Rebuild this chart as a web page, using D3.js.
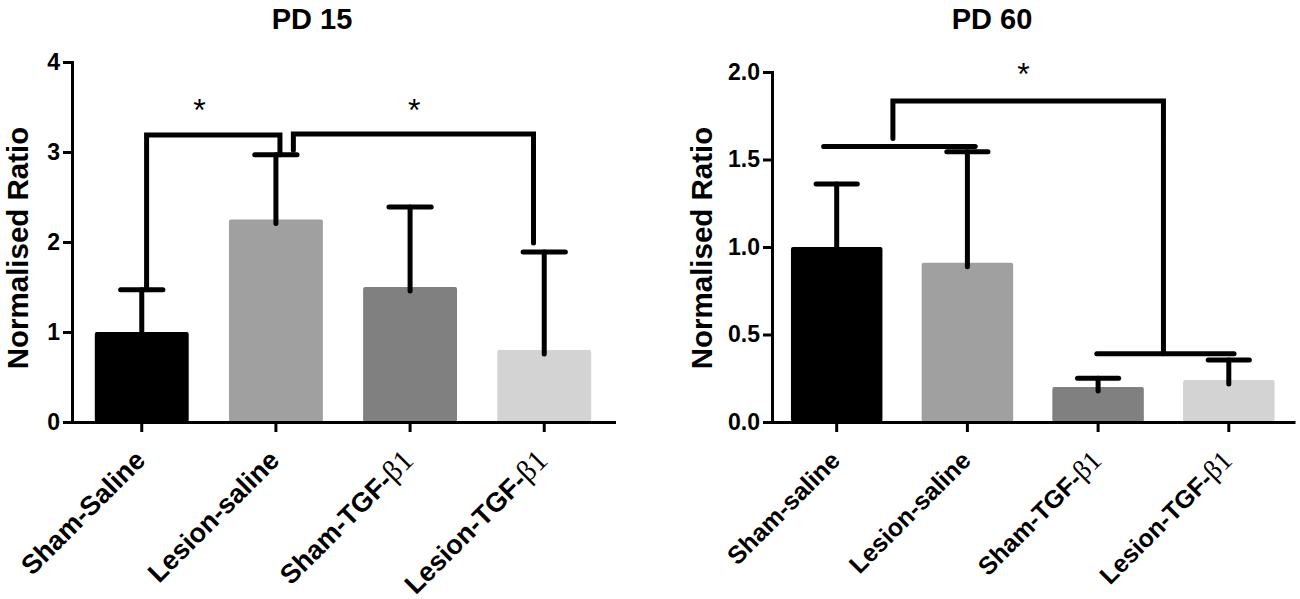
<!DOCTYPE html>
<html>
<head>
<meta charset="utf-8">
<script src="https://cdn.jsdelivr.net/npm/d3@7"></script>
<style>
  html, body { margin: 0; padding: 0; background: #fff; }
  svg { display: block; font-family: "Liberation Sans", Arial, sans-serif; }
</style>
</head>
<body>
<svg id="chart"></svg>
<script>
// ---- data ----
const cats15 = ['Sham-Saline', 'Lesion-saline', 'Sham-TGF-β1', 'Lesion-TGF-β1'];
const cats60 = ['Sham-saline', 'Lesion-saline', 'Sham-TGF-β1', 'Lesion-TGF-β1'];

const mean15 = [1.0, 2.25, 1.5, 0.8];
const sem15 = [0.47, 0.72, 0.89, 1.09];
const mean60 = [1.0, 0.91, 0.2, 0.24];
const sem60 = [0.36, 0.635, 0.05, 0.115];

const ticks15 = [0, 1, 2, 3, 4];
const ticks60 = [0, 0.5, 1.0, 1.5, 2.0];

const barColors = ['#000000', '#a0a0a0', '#808080', '#d3d3d3'];

// significance lines: [bar index (fractional), value]
const brackets15 = [
    [[0.036, 1.47], [0.036, 3.19], [1.03, 3.19], [1.03, 2.97]],
    [[1.13, 3.02], [1.13, 3.2], [2.92, 3.2], [2.92, 1.99]],
];
const stars15 = [[0.43, 3.55], [2.03, 3.55]];

const brackets60 = [
    [[-0.10, 1.575], [1.06, 1.575]],
    [[0.43, 1.62], [0.43, 1.835], [2.50, 1.835], [2.50, 0.39]],
    [[1.99, 0.39], [3.04, 0.39]],
];
const stars60 = [[1.43, 2.03]];

// ---- drawing ----
const svg = d3.select('#chart').attr('width', 1300).attr('height', 599);

function drawPanel(o) {
    const g = svg.append('g');

    const x = d3.scaleBand().domain(o.cats).range([o.x0, o.x1])
        .paddingInner(0.3).paddingOuter(o.outer);
    const y = d3.scaleLinear().domain([0, o.ticks[o.ticks.length - 1]]).range([o.y0, o.y1]);
    const bw = x.bandwidth();
    const cx = c => x(c) + bw / 2;
    // fractional bar index -> pixel
    const pos = d3.scaleLinear().domain([0, 1]).range([cx(o.cats[0]), cx(o.cats[1])]);

    // bars
    g.selectAll('rect.bar')
        .data(o.cats)
        .join('rect')
        .attr('class', 'bar')
        .attr('x', c => x(c))
        .attr('y', (c, i) => y(o.means[i]))
        .attr('width', bw)
        .attr('height', (c, i) => y(0) - y(o.means[i]))
        .attr('rx', 2)
        .attr('fill', (c, i) => barColors[i]);

    // error bars (upper only)
    const err = g.selectAll('g.err')
        .data(o.cats)
        .join('g')
        .attr('class', 'err')
        .attr('stroke', '#000')
        .attr('stroke-width', 5);
    err.append('line')
        .attr('x1', c => cx(c)).attr('x2', c => cx(c))
        .attr('y1', (c, i) => y(o.means[i]) + 4)
        .attr('y2', (c, i) => y(o.means[i] + o.sems[i]))
        .attr('stroke-linecap', 'round');
    err.append('line')
        .attr('x1', c => cx(c) - bw * 0.225).attr('x2', c => cx(c) + bw * 0.225)
        .attr('y1', (c, i) => y(o.means[i] + o.sems[i]))
        .attr('y2', (c, i) => y(o.means[i] + o.sems[i]))
        .attr('stroke-linecap', 'round');

    // significance brackets
    const line = d3.line().x(d => pos(d[0])).y(d => y(d[1]));
    g.selectAll('path.bracket')
        .data(o.brackets)
        .join('path')
        .attr('class', 'bracket')
        .attr('d', line)
        .attr('fill', 'none')
        .attr('stroke', '#000')
        .attr('stroke-width', 5)
        .attr('stroke-linecap', 'round')
        .attr('stroke-linejoin', 'miter');

    g.selectAll('text.star')
        .data(o.stars)
        .join('text')
        .attr('class', 'star')
        .attr('x', d => pos(d[0]))
        .attr('y', d => y(d[1]) + 18)
        .attr('text-anchor', 'middle')
        .attr('font-size', 32)
        .text('*');

    // y axis
    const yAxis = d3.axisLeft(y).tickValues(o.ticks).tickFormat(o.fmt)
        .tickSize(9).tickSizeOuter(0).tickPadding(3);
    const ya = g.append('g').attr('transform', `translate(${o.x0},0)`).call(yAxis);
    ya.select('.domain').attr('stroke-width', 3).attr('stroke-linecap', 'square');
    ya.selectAll('.tick line').attr('stroke-width', 3);
    ya.selectAll('.tick text')
        .attr('font-size', 23).attr('font-weight', 'bold').attr('fill', '#000')
        .attr('font-family', '"Liberation Sans", Arial, sans-serif');

    // x axis
    const xAxis = d3.axisBottom(x).tickSize(10).tickSizeOuter(0);
    const xa = g.append('g').attr('transform', `translate(0,${o.y0})`).call(xAxis);
    xa.select('.domain').attr('stroke-width', 3).attr('stroke-linecap', 'square');
    xa.selectAll('.tick line').attr('stroke-width', 3);
    xa.selectAll('.tick text')
        .attr('x', 0).attr('y', 0).attr('dy', 0)
        .attr('transform', 'translate(5,40) rotate(-45)')
        .attr('text-anchor', 'end')
        .attr('font-size', o.catFont).attr('font-weight', 'bold').attr('fill', '#000')
        .attr('font-family', '"Liberation Sans", Arial, sans-serif')
        .each(function (d) {
            const t = d3.select(this);
            const parts = d.split('β');
            t.text(null);
            t.append('tspan').text(parts[0]);
            if (parts.length > 1) {
                t.append('tspan')
                    .attr('font-family', '"Liberation Serif", "Times New Roman", serif')
                    .attr('font-weight', 'normal')
                    .attr('font-size', '1.1em')
                    .text('β' + parts[1]);
            }
        });

    // title and y label
    g.append('text')
        .attr('x', o.titleX).attr('y', 29)
        .attr('text-anchor', 'middle')
        .attr('font-size', 29).attr('font-weight', 'bold')
        .text(o.title);

    g.append('text')
        .attr('transform', `translate(${o.labelX},248) rotate(-90)`)
        .attr('text-anchor', 'middle')
        .attr('dominant-baseline', 'central')
        .attr('font-size', 29.5).attr('font-weight', 'bold')
        .text('Normalised Ratio');
}

drawPanel({
    cats: cats15, means: mean15, sems: sem15, ticks: ticks15, fmt: d3.format('d'),
    brackets: brackets15, stars: stars15, title: 'PD 15',
    x0: 72, x1: 614, outer: 0.17, y0: 422, y1: 62,
    titleX: 312, labelX: 17, catFont: 27,
});

drawPanel({
    cats: cats60, means: mean60, sems: sem60, ticks: ticks60, fmt: d3.format('.1f'),
    brackets: brackets60, stars: stars60, title: 'PD 60',
    x0: 772, x1: 1293.5, outer: 0.145, y0: 422, y1: 72,
    titleX: 992, labelX: 701, catFont: 25,
});
</script>
</body>
</html>
